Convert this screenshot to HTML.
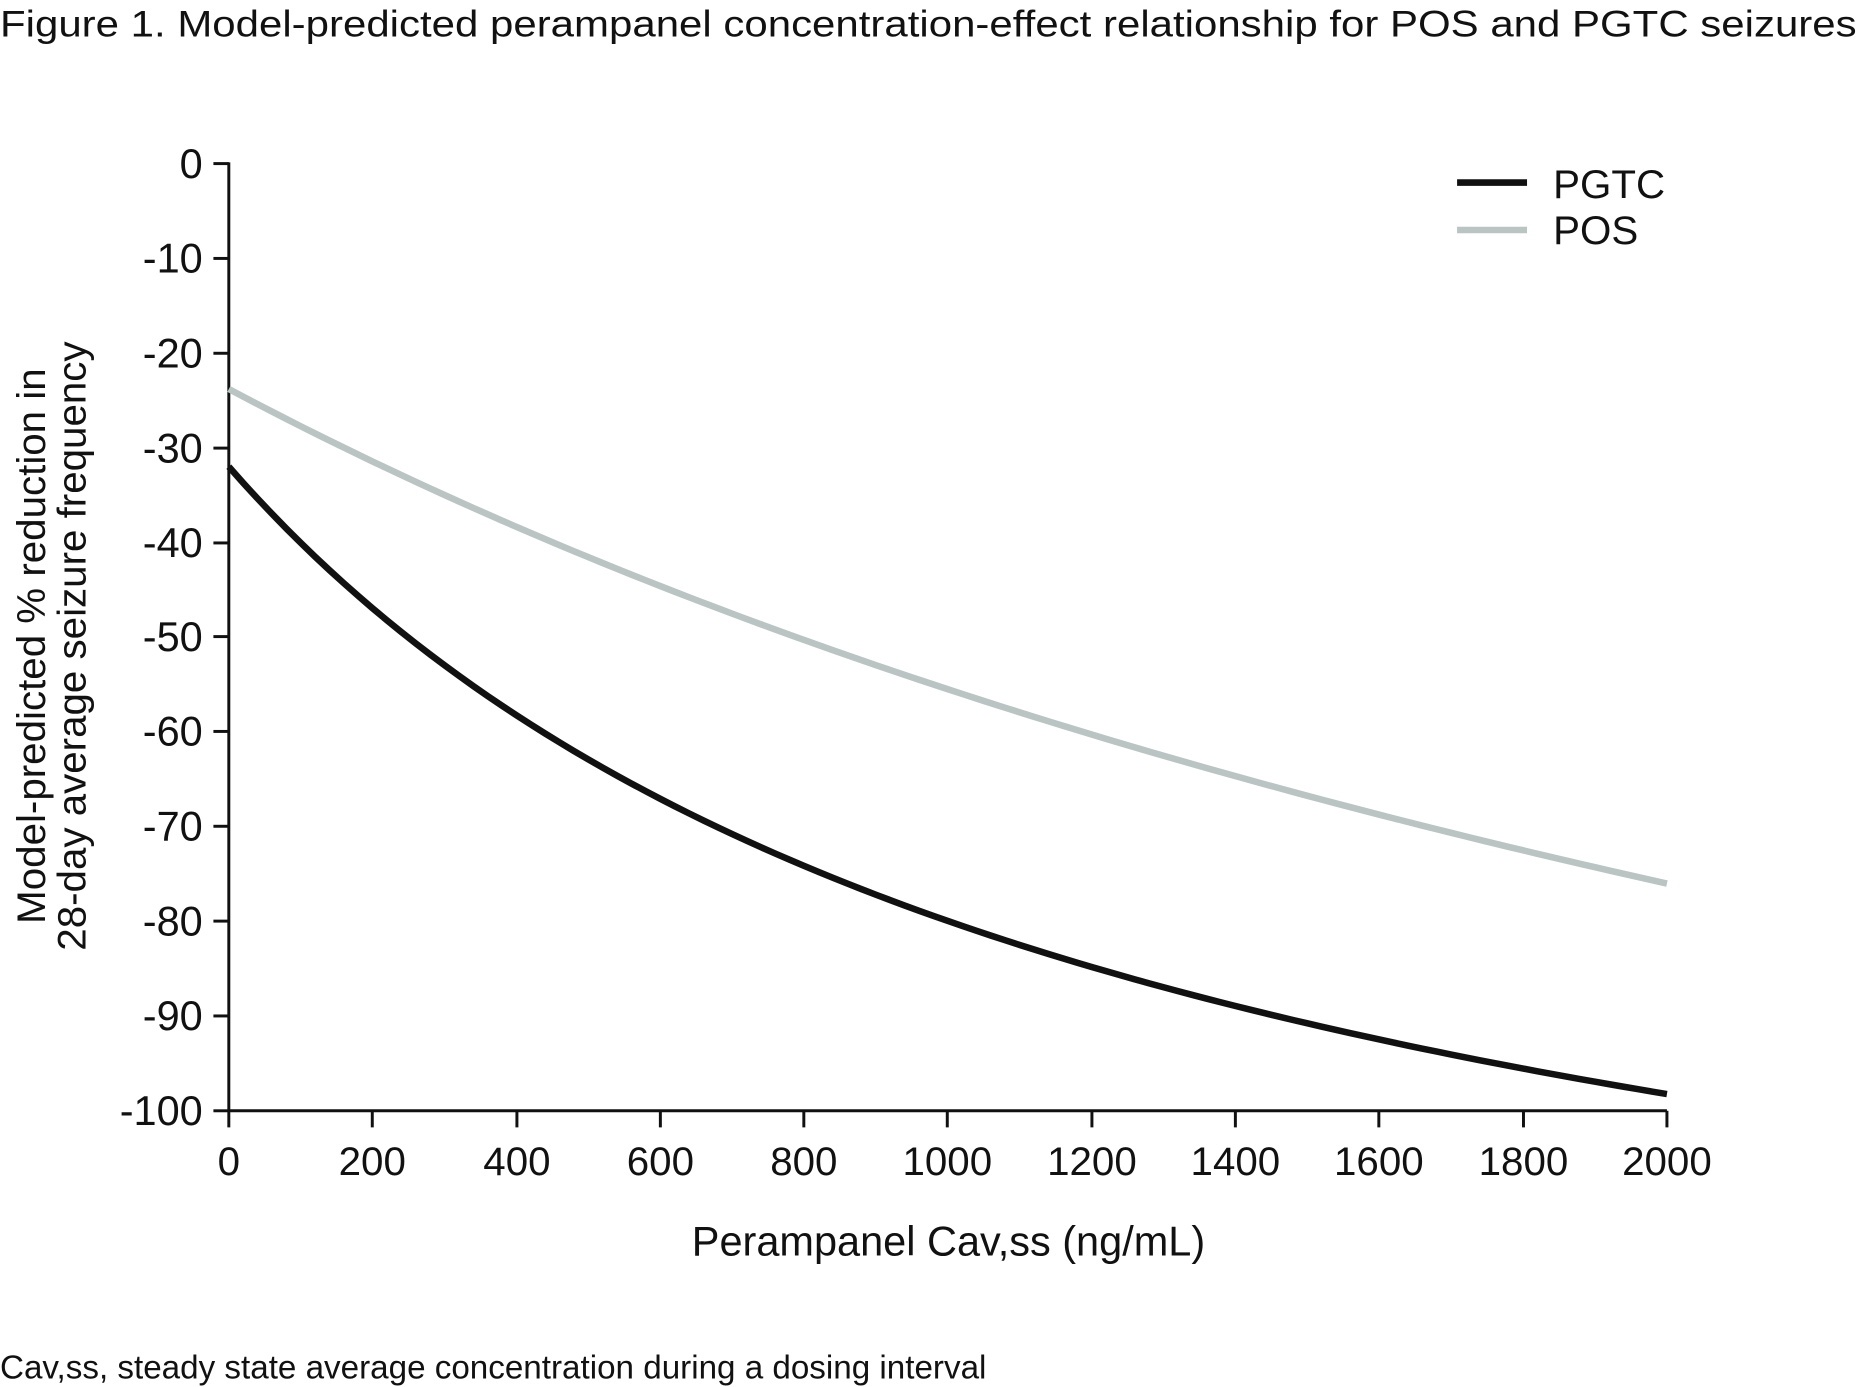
<!DOCTYPE html>
<html><head><meta charset="utf-8"><style>
html,body{margin:0;padding:0;background:#fff;}
svg{display:block;}
text{font-family:"Liberation Sans",Arial,sans-serif;fill:#111;}
</style></head><body>
<svg width="1859" height="1387" viewBox="0 0 1568 1170" preserveAspectRatio="none" xmlns="http://www.w3.org/2000/svg">
<text x="0" y="31" font-size="31" textLength="1566" lengthAdjust="spacingAndGlyphs">Figure 1. Model-predicted perampanel concentration-effect relationship for POS and PGTC seizures</text>
<g stroke="#111" stroke-width="2.5" fill="none">
<line x1="193" y1="137" x2="193" y2="938"/>
<line x1="192" y1="937" x2="1406" y2="937"/>
<line x1="180" y1="138" x2="193" y2="138"/>
<line x1="180" y1="218" x2="193" y2="218"/>
<line x1="180" y1="298" x2="193" y2="298"/>
<line x1="180" y1="378" x2="193" y2="378"/>
<line x1="180" y1="458" x2="193" y2="458"/>
<line x1="180" y1="537" x2="193" y2="537"/>
<line x1="180" y1="617" x2="193" y2="617"/>
<line x1="180" y1="697" x2="193" y2="697"/>
<line x1="180" y1="777" x2="193" y2="777"/>
<line x1="180" y1="857" x2="193" y2="857"/>
<line x1="180" y1="937" x2="193" y2="937"/>
<line x1="193" y1="937" x2="193" y2="951"/>
<line x1="314" y1="937" x2="314" y2="951"/>
<line x1="436" y1="937" x2="436" y2="951"/>
<line x1="557" y1="937" x2="557" y2="951"/>
<line x1="678" y1="937" x2="678" y2="951"/>
<line x1="799" y1="937" x2="799" y2="951"/>
<line x1="921" y1="937" x2="921" y2="951"/>
<line x1="1042" y1="937" x2="1042" y2="951"/>
<line x1="1163" y1="937" x2="1163" y2="951"/>
<line x1="1285" y1="937" x2="1285" y2="951"/>
<line x1="1406" y1="937" x2="1406" y2="951"/>
</g>
<g font-size="35" text-anchor="end">
<text x="171" y="150">0</text>
<text x="171" y="230">-10</text>
<text x="171" y="310">-20</text>
<text x="171" y="390">-30</text>
<text x="171" y="470">-40</text>
<text x="171" y="549">-50</text>
<text x="171" y="629">-60</text>
<text x="171" y="709">-70</text>
<text x="171" y="789">-80</text>
<text x="171" y="869">-90</text>
<text x="171" y="949">-100</text>
</g>
<g font-size="34" text-anchor="middle">
<text x="193" y="991">0</text>
<text x="314" y="991">200</text>
<text x="436" y="991">400</text>
<text x="557" y="991">600</text>
<text x="678" y="991">800</text>
<text x="799" y="991">1000</text>
<text x="921" y="991">1200</text>
<text x="1042" y="991">1400</text>
<text x="1163" y="991">1600</text>
<text x="1285" y="991">1800</text>
<text x="1406" y="991">2000</text>
</g>
<text x="800" y="1059" font-size="35" text-anchor="middle">Perampanel Cav,ss (ng/mL)</text>
<g font-size="34" text-anchor="middle">
<text transform="translate(38,545) rotate(-90)">Model-predicted % reduction in</text>
<text transform="translate(72,545) rotate(-90)">28-day average seizure frequency</text>
</g>
<text x="0" y="1163" font-size="28">Cav,ss, steady state average concentration during a dosing interval</text>
<line x1="1229" y1="154" x2="1288" y2="154" stroke="#111" stroke-width="5.5"/>
<line x1="1229" y1="194" x2="1288" y2="194" stroke="#b9c4c3" stroke-width="5.5"/>
<text x="1310" y="167" font-size="34">PGTC</text>
<text x="1310" y="206" font-size="34">POS</text>
<path id="pos" d="" fill="none" stroke="#b9c4c3" stroke-width="5.5"/>
<path id="pgtc" d="" fill="none" stroke="#111" stroke-width="5.5"/>
<script>
function mk(e0,a,b){var d="";for(var i=0;i<=100;i++){var x=i*20;var y=e0-a*x/(b+x);var px=193+x*(1213/2000);var py=138-y*7.99;d+=(i?"L":"M")+px.toFixed(2)+","+py.toFixed(2);}return d;}
document.getElementById("pos").setAttribute("d",mk(-23.8,147.9,3666));
document.getElementById("pgtc").setAttribute("d",mk(-32,107,1231));
</script>
</svg>
</body></html>
